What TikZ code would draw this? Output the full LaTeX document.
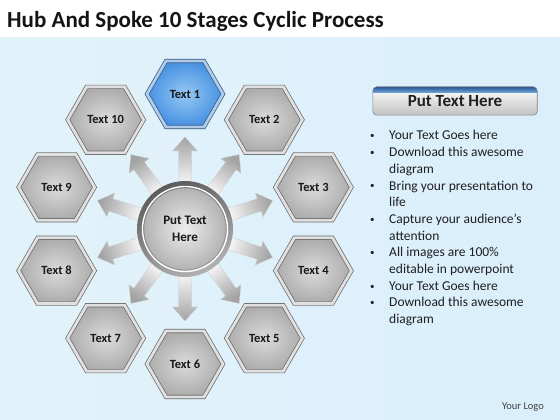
\documentclass[tikz,border=0pt]{standalone}
\usepackage{fontspec}
\setmainfont{Carlito}
\usetikzlibrary{shapes.geometric,calc}
\definecolor{bgL}{RGB}{226,242,250}
\definecolor{bgR}{RGB}{218,239,251}
\definecolor{hexBlueIn}{RGB}{150,200,245}
\definecolor{hexBlueOut}{RGB}{70,145,225}
\definecolor{hexBlueLine}{RGB}{55,85,125}
\definecolor{hexBlueDbl}{RGB}{175,205,235}
\definecolor{bandA}{RGB}{35,85,150}
\definecolor{bandB}{RGB}{120,168,220}
\newcommand\mybul{{\fontsize{9}{9}\selectfont\raisebox{1.2pt}{\textbullet}}}
\begin{document}
\begin{tikzpicture}[x=1pt,y=1pt,
  hexbox/.style={regular polygon, regular polygon sides=6, minimum size=76pt,
    inner sep=0pt, draw=black!60, line width=0.7pt, double=black!12,
    double distance=2.8pt, inner color=black!14, outer color=black!33,
    font=\fontsize{12.5}{14}\selectfont\bfseries, text=black!90},
  bluehex/.style={draw=hexBlueLine, double=hexBlueDbl,
    inner color=hexBlueIn, outer color=hexBlueOut},
  spoke/.style={draw=black!20, line width=0.3pt, top color=black!36, bottom color=white},
]
\useasboundingbox (0,0) rectangle (560,420);
% background
\fill[white] (0,0) rectangle (560,420);
\shade[left color=bgL, middle color=white, right color=bgR] (0,0) rectangle (560,382);
% title
\node[anchor=base west, inner sep=0, font=\fontsize{23}{27}\selectfont\bfseries, text=black!92] (title) at (7,392) {Hub And Spoke 10 Stages Cyclic Process};
% hub centre
\coordinate (hc) at (185,191);
% hexagons
\node[hexbox, bluehex] (h1) at ($(hc)+(90:135)$) {Text 1};
\foreach \i/\a in {2/54, 3/18, 4/-18, 5/-54, 6/-90, 7/-126, 8/-162, 9/162, 10/126}
  \node[hexbox] (h\i) at ($(hc)+(\a:135)$) {Text \i};
% spokes
\foreach \i/\sa in {1/0, 2/-36, 3/-72, 4/-108, 5/-144, 6/-180, 7/144, 8/108, 9/72, 10/36} {
  \coordinate (t\i) at ($(hc)!40pt!(h\i)$);
  \coordinate (n\i) at ($(hc)!78pt!(h\i)$);
  \coordinate (p\i) at ($(hc)!92pt!(h\i)$);
  \shade[spoke, shading angle=\sa]
    ($(t\i)!6.5pt!90:(h\i)$) -- ($(n\i)!6.5pt!90:(h\i)$) -- ($(n\i)!12.5pt!90:(h\i)$)
    -- (p\i) -- ($(n\i)!12.5pt!-90:(h\i)$) -- ($(n\i)!6.5pt!-90:(h\i)$)
    -- ($(t\i)!6.5pt!-90:(h\i)$) -- cycle;
}
% hub
\shade[top color=black!64, bottom color=black!30, shading angle=25] (hc) circle (48);
\draw[white, line width=1.4pt] (hc) circle (42.5);
\node[circle, minimum size=82pt, inner sep=0, draw=black!45, line width=0.5pt,
  inner color=black!7, outer color=black!30, align=center,
  font=\fontsize{13}{17}\selectfont\bfseries, text=black!90] (hub) at (hc) {Put Text\\Here};
% button
\node[rectangle, rounded corners=4pt, minimum width=164pt, minimum height=28pt, inner sep=0,
  top color=white, bottom color=black!24,
  font=\fontsize{17}{20}\selectfont\bfseries, text=black!88] (btn) at (455,319) {\raisebox{-2.5pt}{Put Text Here}};
\begin{scope}
  \clip[rounded corners=4pt] (btn.south west) rectangle (btn.north east);
  \shade[top color=bandA, bottom color=bandB] ($(btn.north west)+(0,-6)$) rectangle (btn.north east);
\end{scope}
\draw[rounded corners=4pt, black!50, line width=0.6pt] (btn.south west) rectangle (btn.north east);
% bullet list
\node[anchor=base west, inner sep=0, font=\fontsize{13.5}{16.7}\selectfont, text=black!88] (list) at (370,280) {%
\begin{tabular}[t]{@{}p{19pt}@{}l@{}}
\mybul & Your Text Goes here\\
\mybul & Download this awesome\\
 & diagram\\
\mybul & Bring your presentation to\\
 & life\\
\mybul & Capture your audience’s\\
 & attention\\
\mybul & All images are 100\%\\
 & editable in powerpoint\\
\mybul & Your Text Goes here\\
\mybul & Download this awesome\\
 & diagram
\end{tabular}};
% logo
\node[inner sep=0, font=\fontsize{10.5}{12}\selectfont, text=black!75] (logo) at (523,13) {Your Logo};
\end{tikzpicture}
\end{document}
